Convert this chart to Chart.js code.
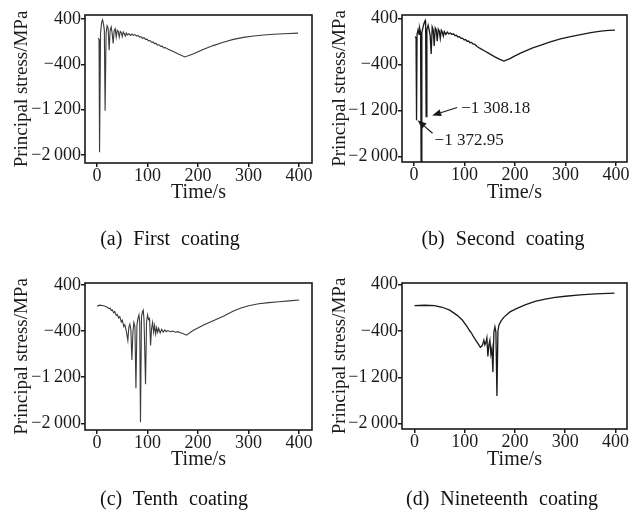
<!DOCTYPE html>
<html><head><meta charset="utf-8">
<script src="https://cdn.jsdelivr.net/npm/chart.js@4.4.1/dist/chart.umd.min.js"></script>
<style>
html,body{margin:0;padding:0;background:#fff;}
body{width:642px;height:520px;position:relative;overflow:hidden;font-family:'Liberation Serif','Times New Roman',serif;}
.panel{position:absolute;width:321px;height:260px;}
.cap{position:absolute;font-size:20px;color:#111;word-spacing:6px;white-space:nowrap;transform:translate(-50%,-50%);line-height:1;}
</style></head><body>
<div class="panel" style="left:0;top:0"><canvas id="cA" width="321" height="260"></canvas></div>
<div class="panel" style="left:321px;top:0"><canvas id="cB" width="321" height="260"></canvas></div>
<div class="panel" style="left:0;top:260px"><canvas id="cC" width="321" height="260"></canvas></div>
<div class="panel" style="left:321px;top:260px"><canvas id="cD" width="321" height="260"></canvas></div>
<div class="cap" style="left:170px;top:238px">(a) First coating</div>
<div class="cap" style="left:503px;top:238px">(b) Second coating</div>
<div class="cap" style="left:174px;top:498px">(c) Tenth coating</div>
<div class="cap" style="left:502px;top:498px">(d) Nineteenth coating</div>
<script>
const xTickValues = [0, 100, 200, 300, 400];
const yTickValues = [400, -400, -1200, -2000];
const yTickLabels = ['400', '\u2212400', '\u22121\u2009200', '\u22122\u2009000'];
const xTitle = 'Time/s';
const yTitle = 'Principal stress/MPa';

const timeA = [2,4,5,7,9,11,13,14.5,16,18,20,22,24,26,28,30,32,34,36,38,40,42,44,46,48,50,52,54,56,58,60,63,66,69,72,75,78,81,84,87,90,93,96,99,102,105,108,111,114,117,120,123,126,129,132,135,140,150,160,174,190,210,230,250,270,290,310,330,350,370,398];
const stressA = [60,40,-1950,150,330,385,300,200,-1220,150,280,240,-150,200,260,150,-30,200,230,80,200,180,80,180,160,90,170,140,100,150,120,140,110,135,110,125,100,110,80,90,60,70,40,45,15,20,-10,-5,-35,-30,-60,-55,-85,-80,-110,-105,-130,-170,-215,-270,-220,-140,-70,-10,40,75,100,118,130,140,150];

const timeB = [2,4,5,6,8,10,11,13,14,15.5,18,20,22,23,24,25.5,28,30,32,34,36,38,40,42,44,46,48,50,52,54,56,58,60,63,66,69,72,75,78,81,84,87,90,93,96,99,102,105,108,111,114,117,120,125,130,140,150,160,170,178,190,200,210,220,235,250,270,290,310,330,350,370,385,398];
const stressB = [80,60,-1372.95,120,200,120,230,150,-2100,150,250,320,360,280,-1308.18,200,280,200,100,-220,250,200,-80,230,200,0,210,180,50,190,160,90,170,120,160,130,145,120,130,100,105,75,80,50,55,25,30,0,5,-25,-20,-50,-50,-90,-120,-170,-220,-270,-315,-345,-300,-255,-210,-170,-115,-70,-10,40,80,115,150,175,190,195];

const timeC = [0,5,10,15,20,24,26,28,30,33,35,38,40,43,45,48,50,53,55,58,61,63,65,67,69,71,73,75,77,79,81,83,84.5,86,88,90,91.5,93,96,98,100,102,104,106,108,110,112,114,116,118,120,122,125,128,131,134,137,140,145,150,155,160,165,170,177,190,210,230,250,270,285,300,320,340,360,380,400];
const stressC = [30,50,45,35,15,-10,0,-40,-30,-80,-60,-130,-110,-170,-150,-240,-210,-320,-290,-400,-560,-330,-280,-380,-900,-420,-250,-320,-1390,-300,-180,-120,-250,-1980,-150,-60,-35,-200,-1320,-250,-120,-200,-180,-650,-350,-250,-420,-300,-450,-340,-420,-350,-430,-370,-420,-380,-410,-390,-410,-400,-420,-410,-430,-440,-470,-390,-300,-220,-140,-50,0,40,75,95,110,125,140];

const timeD = [0,20,40,55,70,85,95,105,110,113,116,119,122,125,128,131,134,136,138,140,142,144,146,148,150,152,154,156,158,160,162,164,166,168,172,178,190,204,220,240,260,280,300,330,360,398];
const stressD = [40,45,40,10,-40,-130,-210,-330,-400,-430,-480,-520,-560,-600,-640,-680,-660,-620,-560,-640,-600,-520,-840,-640,-560,-800,-700,-1110,-420,-330,-420,-1520,-400,-300,-230,-160,-70,-10,50,110,150,180,200,225,240,255];

const annotTimesB = [24, 5];
const annotValuesB = [-1308.18, -1372.95];
const annotLabelsB = ['\u22121 308.18', '\u22121 372.95'];

const FONT = "'Liberation Serif','Times New Roman',serif";
const INK = '#1a1a1a';

const frame = {
  id: 'frame',
  afterDatasetsDraw(chart) {
    const {ctx, chartArea: a} = chart;
    ctx.save();
    ctx.strokeStyle = INK; ctx.lineWidth = 1.6;
    ctx.strokeRect(a.left, a.top, a.right - a.left, a.bottom - a.top);
    ctx.restore();
  }
};

const arrowsB = {
  id: 'arrowsB',
  afterDatasetsDraw(chart) {
    const {ctx, scales: {x, y}} = chart;
    const specs = [
      {tip: [6, -1], tail: [31, -9], text: [35, -8]},
      {tip: [1, 0], tail: [16, 13], text: [18, 20]}
    ];
    annotTimesB.forEach((t, i) => {
      const px = x.getPixelForValue(t), py = y.getPixelForValue(annotValuesB[i]);
      const s = specs[i];
      const tx = px + s.tip[0], ty = py + s.tip[1], sx = px + s.tail[0], sy = py + s.tail[1];
      const ang = Math.atan2(ty - sy, tx - sx);
      const hl = 9, hw = 3.5;
      const bx = tx - hl * Math.cos(ang), by = ty - hl * Math.sin(ang);
      ctx.save();
      ctx.strokeStyle = INK; ctx.fillStyle = INK; ctx.lineWidth = 1.2;
      ctx.beginPath(); ctx.moveTo(sx, sy); ctx.lineTo(bx, by); ctx.stroke();
      ctx.beginPath(); ctx.moveTo(tx, ty);
      ctx.lineTo(bx + hw * Math.sin(ang), by - hw * Math.cos(ang));
      ctx.lineTo(bx - hw * Math.sin(ang), by + hw * Math.cos(ang));
      ctx.closePath(); ctx.fill();
      ctx.font = '17px ' + FONT; ctx.textAlign = 'left'; ctx.textBaseline = 'middle';
      ctx.fillText(annotLabelsB[i], px + s.text[0], py + s.text[1]);
      ctx.restore();
    });
  }
};

function makeChart(id, times, values, L, extra) {
  const pts = times.map((t, i) => ({x: t, y: values[i]}));
  return new Chart(document.getElementById(id), {
    type: 'line',
    data: {datasets: [{data: pts, borderColor: L.lineColor, borderWidth: L.lineWidth, pointRadius: 0, tension: 0, fill: false}]},
    options: {
      responsive: false, animation: false, devicePixelRatio: 1,
      layout: {padding: {left: 0, top: L.top, right: L.right, bottom: L.bottom}},
      plugins: {legend: {display: false}, tooltip: {enabled: false}, title: {display: false}},
      scales: {
        x: {
          type: 'linear', bounds: 'data', min: L.xmin, max: L.xmax,
          afterBuildTicks: s => { s.ticks = xTickValues.map(v => ({value: v})); },
          afterFit: s => { s.height = 45; },
          grid: {drawOnChartArea: false, drawTicks: true, tickLength: 4, color: INK, lineWidth: 1.5},
          border: {display: false},
          ticks: {font: {family: FONT, size: 18, lineHeight: 1}, color: INK, padding: 0, maxRotation: 0, autoSkip: false, callback: v => String(v)},
          title: {display: true, text: xTitle, font: {family: FONT, size: 20, lineHeight: 1}, color: INK, padding: {top: 0, bottom: L.xTitlePad}}
        },
        y: {
          type: 'linear', bounds: 'data', min: L.ymin, max: L.ymax,
          afterBuildTicks: s => { s.ticks = yTickValues.map(v => ({value: v})); },
          afterFit: s => { s.width = L.yW; },
          grid: {drawOnChartArea: false, drawTicks: true, tickLength: 4, color: INK, lineWidth: 1.5},
          border: {display: false},
          ticks: {font: {family: FONT, size: 18, lineHeight: 1}, color: INK, padding: 0, autoSkip: false,
                  callback: v => yTickLabels[yTickValues.indexOf(v)]},
          title: {display: true, text: yTitle, font: {family: FONT, size: 19, lineHeight: 1}, color: INK, padding: {top: L.yTitlePad, bottom: 0}}
        }
      }
    },
    plugins: [frame].concat(extra || [])
  });
}

makeChart('cA', timeA, stressA, {top: 15, right: 9, bottom: 52, yW: 85, xmin: -23.8, xmax: 425.7, ymin: -2141, ymax: 470, xTitlePad: 5, yTitlePad: 12.5, lineColor: '#3a3a3a', lineWidth: 1.1});
makeChart('cB', timeB, stressB, {top: 15, right: 15, bottom: 53, yW: 81, xmin: -23.8, xmax: 421.8, ymin: -2099, ymax: 457, xTitlePad: 4, yTitlePad: 9.5, lineColor: '#1a1a1a', lineWidth: 1.3}, [arrowsB]);
makeChart('cC', timeC, stressC, {top: 23, right: 9, bottom: 45, yW: 85, xmin: -23.8, xmax: 425.5, ymin: -2116, ymax: 435, xTitlePad: 5, yTitlePad: 12.5, lineColor: '#3a3a3a', lineWidth: 1.1});
makeChart('cD', timeD, stressD, {top: 23, right: 15, bottom: 46, yW: 81, xmin: -25, xmax: 423, ymin: -2092, ymax: 429, xTitlePad: 4, yTitlePad: 9.5, lineColor: '#1a1a1a', lineWidth: 1.3});
</script>
</body></html>
